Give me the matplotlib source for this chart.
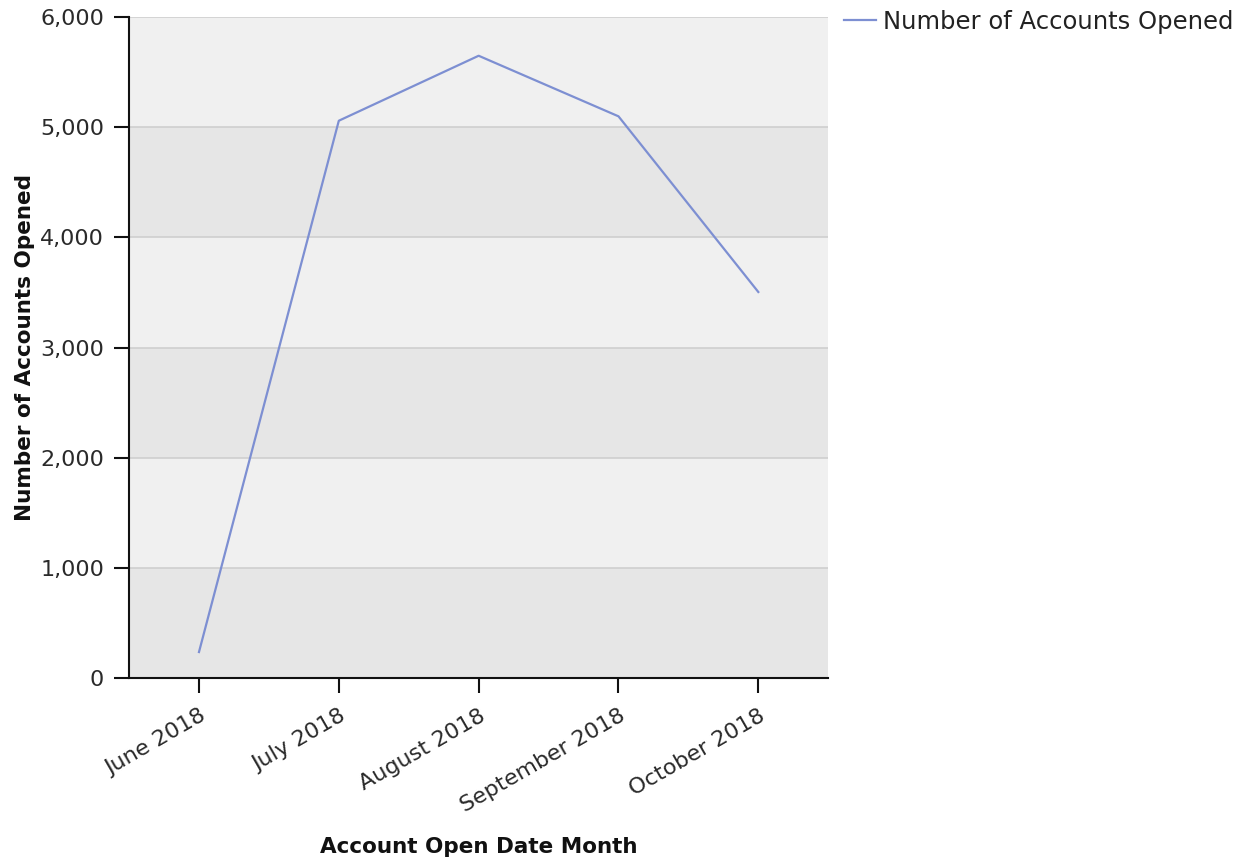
import matplotlib
matplotlib.use("Agg")
import matplotlib.pyplot as plt
from matplotlib.ticker import FuncFormatter

months = ["June 2018", "July 2018", "August 2018", "September 2018", "October 2018"]
accounts_opened = [236, 5060, 5650, 5100, 3505]
y_ticks = [0, 1000, 2000, 3000, 4000, 5000, 6000]

plt.rcParams["font.family"] = ["DejaVu Sans"]

fig = plt.figure(figsize=(12.53, 8.6), dpi=100, facecolor="white")
ax = fig.add_axes([0.103, 0.2116, 0.558, 0.7684])

# alternating horizontal bands
for i in range(len(y_ticks) - 1):
    shade = "#e6e6e6" if i % 2 == 0 else "#f0f0f0"
    ax.axhspan(y_ticks[i], y_ticks[i + 1], color=shade, zorder=0, lw=0)
for t in y_ticks[1:]:
    ax.axhline(t, color="#cfcfcf", lw=1.2, zorder=1)

x = list(range(len(months)))
ax.plot(x, accounts_opened, color="#7d8fd2", lw=1.6, zorder=3,
        label="Number of Accounts Opened")

ax.set_xlim(-0.5, len(months) - 0.5)
ax.set_ylim(0, 6000)
ax.set_yticks(y_ticks)
ax.yaxis.set_major_formatter(FuncFormatter(lambda v, p: f"{int(v):,}"))
ax.set_xticks(x)
ax.set_xticklabels(months, rotation=30, ha="right", rotation_mode="anchor")

for side in ("top", "right"):
    ax.spines[side].set_visible(False)
for side in ("left", "bottom"):
    ax.spines[side].set_color("#111111")
    ax.spines[side].set_linewidth(1.5)
ax.tick_params(axis="both", direction="out", length=11, width=1.5,
               color="#111111", labelsize=16, labelcolor="#2a2a2a")
ax.tick_params(axis="y", pad=7)
ax.tick_params(axis="x", pad=9)

ax.set_xlabel("Account Open Date Month", fontsize=15.5, fontweight="bold",
              color="#111111", labelpad=15)
ax.set_ylabel("Number of Accounts Opened", fontsize=15.5, fontweight="bold",
              color="#111111", labelpad=4)

fig.legend(loc="upper left", bbox_to_anchor=(0.6565, 1.014), frameon=False,
           fontsize=17.5, handlelength=1.3, handletextpad=0.3,
           labelcolor="#222222")

fig.savefig("out.png", dpi=100, facecolor="white")
